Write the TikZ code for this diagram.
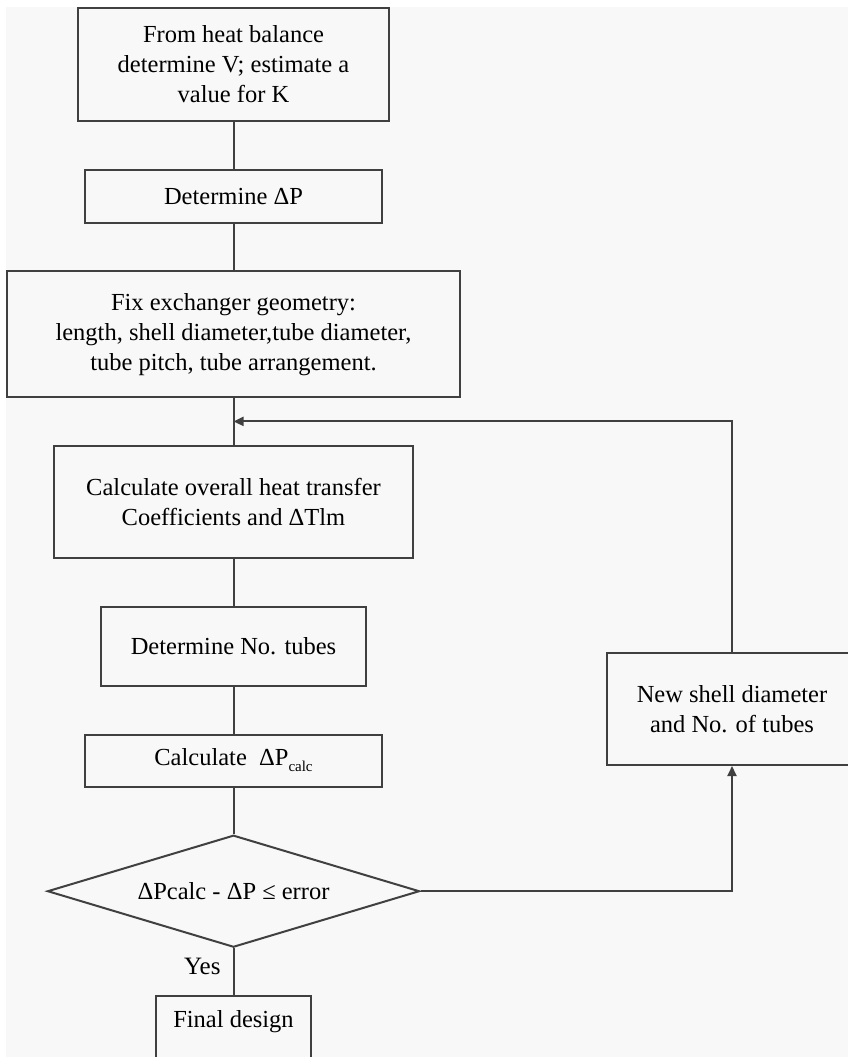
\documentclass[tikz,border=0pt]{standalone}
\usepackage{fontspec}
\setmainfont{Liberation Serif}
\usetikzlibrary{positioning,shapes.geometric,arrows.meta}
\definecolor{bggray}{HTML}{F8F8F8}
\definecolor{linegray}{HTML}{404040}

\begin{document}
\begin{tikzpicture}[x=1pt, y=-1pt, node distance=46.7pt,
        every node/.style={font=\fontsize{24.5}{30}\selectfont},
        box/.style={rectangle, draw=linegray, line width=2pt, align=center, inner sep=0pt},
        link/.style={draw=linegray, line width=2pt},
        arrow/.style={-{Triangle[length=10pt,width=9pt]}}]
        \useasboundingbox (0,0) rectangle (848,1057);
        \fill[white] (0,0) rectangle (848,1057);
        \fill[bggray] (6,7) rectangle (848,1057);
        \clip (0,0) rectangle (848,1057);

        \node[box, minimum width=311pt, minimum height=113pt] (heat) at (233.5,64.5) {From heat balance\\determine V; estimate a\\value for K};
        \node[box, minimum width=297pt, minimum height=53pt] (deltaP) [below=of heat] {Determine ΔP};
        \node[box, minimum width=453pt, minimum height=126pt] (geom) [below=of deltaP] {Fix exchanger geometry:\\length, shell diameter,tube diameter,\\tube pitch, tube arrangement.};
        \node[box, minimum width=359pt, minimum height=112pt] (coeff) [below=of geom] {Calculate overall heat transfer\\Coefficients and ΔTlm};
        \node[box, minimum width=265pt, minimum height=79pt] (tubes) [below=of coeff] {Determine No. tubes};
        \node[box, minimum width=297pt, minimum height=52pt] (calcP) [below=of tubes] {Calculate~ ΔP\raisebox{-6pt}{\fontsize{15}{15}\selectfont calc}};
        \node[diamond, draw=linegray, line width=2pt, aspect=3.3, inner sep=0pt, minimum width=372pt, minimum height=112pt] (check) [below=of calcP] {ΔPcalc - ΔP ≤ error};
        \node[box, minimum width=155pt, text height=17pt, text depth=75pt, inner ysep=15pt] (final) [below=of check] {Final design};
        \node[box, minimum width=250pt, minimum height=112pt] (newShell) at (732,709) {New shell diameter\\and No. of tubes};
        \coordinate[below=23pt of geom] (join);

        \draw[link] (heat) -- (deltaP);
        \draw[link] (deltaP) -- (geom);
        \draw[link] (geom) -- (coeff);
        \draw[link] (coeff) -- (tubes);
        \draw[link] (tubes) -- (calcP);
        \draw[link] (calcP) -- (check);
        \draw[link] (check) -- node[pos=0.4, left=12pt, inner sep=0pt, font=\fontsize{25}{25}\selectfont] {Yes} (final);
        \draw[link, arrow] (check.east) -| (newShell.south);
        \draw[link, arrow] (newShell.north) |- (join);
    \end{tikzpicture}
\end{document}
